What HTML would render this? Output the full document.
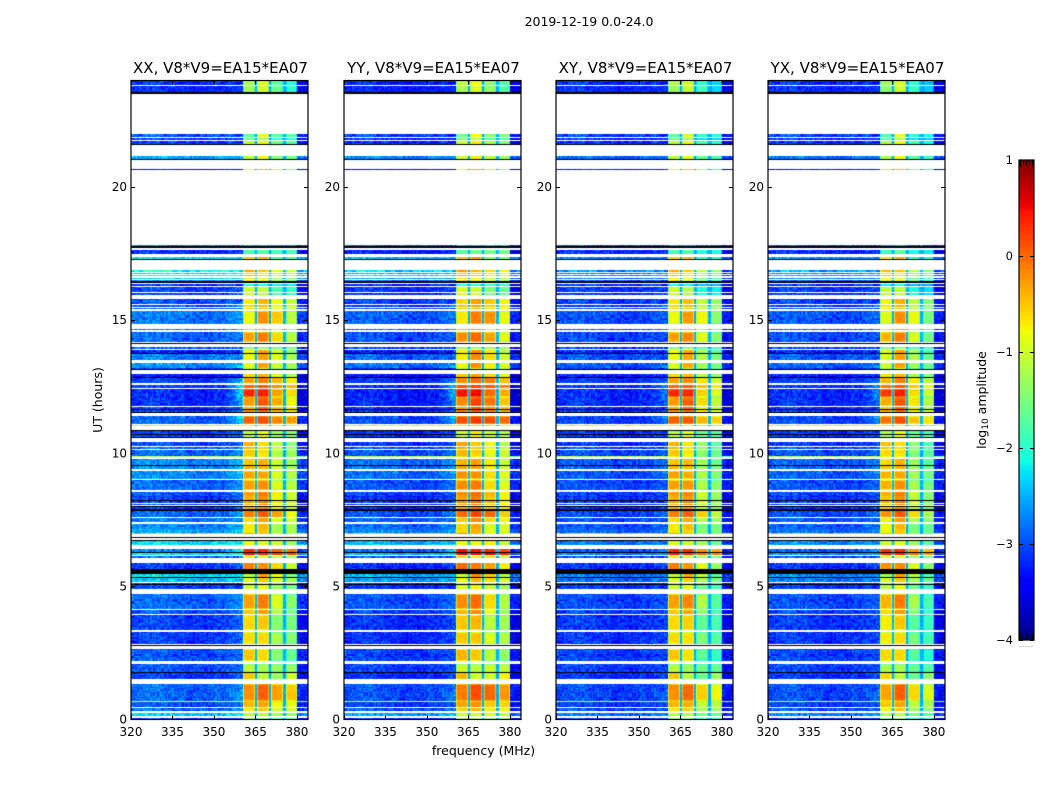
<!DOCTYPE html>
<html lang="en">
<head>
<meta charset="utf-8">
<title>2019-12-19 0.0-24.0</title>
<style>
html,body{margin:0;padding:0;background:#fff;}
#figure{position:relative;width:1050px;height:800px;overflow:hidden;background:#fff;}
canvas{position:absolute;display:block;}
svg{position:absolute;left:0;top:0;}
text{font-family:"DejaVu Sans","Liberation Sans",sans-serif;fill:#000;}
</style>
</head>
<body>
<div id="figure">
<svg id="overlay" width="1050" height="800" viewBox="0 0 1050 800"></svg>
</div>
<script>
// ---------- chart values ----------
var K = -9; // flagged rows drawn black
var panelTitles = ["XX, V8*V9=EA15*EA07","YY, V8*V9=EA15*EA07","XY, V8*V9=EA15*EA07","YX, V8*V9=EA15*EA07"];
var panelNames = ["xx","yy","xy","yx"];
var xTicks = [320,335,350,365,380];
var yTicks = [0,5,10,15,20];
var colorbarTicks = [1,0,-1,-2,-3,-4];
// background gain/shift and band offsets for each polarisation panel
var panelBgGain = [1,0.85,0.45,0.55];
var panelBgShift = [-0.12,-0.2,-0.12,-0.12];
var panelBand1 = [0.1,0.2,0.1,0];
var panelBand2 = [0.1,0.2,0.05,0.1];
var panelBand3 = [0,0.3,-0.25,-0.3];
var panelBand4 = [0,0.25,-0.3,-0.4];
// receiver bands, MHz
var bandStart = [360.6,365.6,370.5,375.8];
var bandEnd = [365.0,369.9,374.9,379.9];
var gapLevel = -2.5;
// background slope across 320..360 MHz, every 5 MHz
var bgShape = [0.05,0.12,0.08,0,-0.05,-0.05,0.02,0.05,0.1];
// channel speckle
var speckle = [0.12,-0.22,0.3,-0.08,0.18,-0.3,0.05,0.26,-0.15,-0.02,0.34,-0.27,0.09,-0.12,0.22,-0.33,0.15,0.02,-0.19,0.28,-0.06,0.11,-0.25,0.2,-0.1,0.31,-0.17,0.07,-0.29,0.16,0.24,-0.04,-0.21,0.13,-0.31,0.27,0.01,-0.14,0.19,-0.24,0.08];
// rows: top hour, bottom hour, background, shoulder(352-360MHz), band1..band4 (log10 amplitude)
var rows = [
[24,23.83,-3.1,-3,-1.3,-1,-1.7,-2],
[23.81,23.55,-3.1,-3,-1.4,-1.1,-1.6,-2],
[23.55,23.51,K],
[22,21.89,-2.9,-2.9,-1.8,-1,-1.7,-1.7],
[21.85,21.78,-3,-3,-1.7,-1.3,-2,-2],
[21.73,21.62,-3,-3,-1.2,-0.9,-1.5,-1.7],
[21.62,21.59,K],
[21.15,21.07,-2.5,-2.5,-1.2,-0.9,-1.4,-1.5],
[21.07,21.03,K],
[20.69,20.66,-3.2,-3.2,-1,-0.5,-1,-1.6],
[17.82,17.77,-2.7,-2.7,-2.6,-2.6,-2.6,-2.6],
[17.77,17.7,K],
[17.64,17.47,-3.1,-3,-1.9,-1.8,-1.8,-1.8],
[17.37,17.28,-2.2,-2.2,-0.7,-0.5,-1.7,-1.7],
[17.28,17.24,K],
[16.87,16.82,-2,-2,-0.4,-0.6,-0.9,-1],
[16.76,16.73,-2.2,-2.2,-0.7,-0.8,-1,-1.2],
[16.68,16.64,-2,-2,-0.5,-0.7,-1,-1.2],
[16.59,16.56,-2.2,-2.2,-0.8,-1,-1.4,-1.4],
[16.52,16.46,-2.6,-2.6,-0.8,-0.9,-1.2,-1.5],
[16.46,16.39,K],
[16.35,16.3,-3.1,-3.1,-2.2,-2.2,-2.2,-2.2],
[16.23,16.05,-3,-2.8,-1.1,-1.2,-1.8,-1.9],
[16.02,15.93,-3,-2.8,-1.1,-1.2,-1.8,-1.9],
[15.8,15.59,-2.9,-2.7,-0.8,-0.5,-0.8,-1],
[15.55,15.48,-2.9,-2.7,-0.7,-0.5,-0.8,-1],
[15.46,15.4,-2.9,-2.7,-0.7,-0.6,-0.9,-1.1],
[15.33,14.87,-2.7,-2.5,-0.9,-0.3,-0.5,-1.1],
[14.68,14.62,-2.7,-2.4,-0.6,-0.4,-0.9,-1.3],
[14.57,14.18,-2.8,-2.6,-0.4,-0.2,-0.6,-1.1],
[14.13,14.09,K],
[13.98,13.93,-2.8,-2.8,-1.5,-1.5,-1.5,-1.5],
[13.87,13.76,-3.2,-3,-0.9,-0.4,-1,-1.4],
[13.76,13.71,K],
[13.71,13.49,-2.7,-2.5,-0.9,-0.4,-0.9,-1.2],
[13.39,13.22,-2.6,-2.3,-1,-0.4,-1,-1.2],
[13.22,13.17,-3,-3,-1.2,-1,-1.3,-1.4],
[13.17,13.15,K],
[12.99,12.86,-3.2,-3,-0.7,-0.5,-0.9,-1.1],
[12.86,12.84,K],
[12.84,12.62,-3,-2.2,-0.4,-0.2,-0.4,-0.7],
[12.58,12.44,-3,-2,-0.1,0,-0.2,-0.4],
[12.4,12.11,-3.1,-2,0.25,0.3,-0.3,-0.6],
[12.11,11.77,-3.1,-2.3,-0.35,0,-0.35,-0.75],
[11.74,11.65,-3,-2.6,-0.5,-0.1,-0.5,-0.7],
[11.65,11.61,K],
[11.61,11.54,-3,-2.6,-0.3,-0.1,-0.4,-0.6],
[11.54,11.5,K],
[11.4,11.08,-2.8,-2.2,-0.05,0.05,-0.15,-0.25],
[11.07,11.03,-0.7,-0.7,-0.8,-0.8,-1,-1],
[10.86,10.83,K],
[10.83,10.61,-3,-2.7,-1.2,-0.9,-1.3,-1.4],
[10.74,10.71,K],
[10.61,10.57,K],
[10.42,10.27,-2.9,-2.7,-0.5,-0.7,-1.1,-1.4],
[10.24,10.15,-2.8,-2.6,-0.5,-0.7,-1.1,-1.3],
[10.11,10.02,-2.8,-2.6,-0.6,-0.7,-1.1,-1.3],
[10.02,10,K],
[10,9.91,-2.8,-2.6,-0.6,-0.8,-1.2,-1.3],
[9.89,9.86,-1.2,-1.2,-0.8,-0.9,-1.2,-1.3],
[9.8,9.55,-2.6,-2.4,-0.6,-0.5,-1,-1.3],
[9.55,9.51,K],
[9.51,9.39,-2.6,-2.4,-0.5,-0.5,-1,-1.2],
[9.35,9.05,-2.6,-2.4,-0.4,-0.4,-0.9,-1.1],
[8.98,8.61,-2.8,-2.5,-0.4,-0.3,-0.9,-1.1],
[8.54,8.41,-2.9,-2.6,-0.4,-0.2,-0.7,-1],
[8.41,8.38,K],
[8.38,8.24,-3,-2.7,-0.5,-0.3,-0.8,-1],
[8.24,8.21,K],
[8.21,8.14,-3,-2.7,-0.4,-0.2,-0.7,-1],
[8.1,8.05,-3,-2.7,-0.5,-0.3,-0.8,-1],
[8.01,7.98,K],
[7.98,7.89,-3,-2.7,-0.5,-0.3,-0.8,-1],
[7.89,7.83,K],
[7.83,7.59,-2.8,-2.5,-0.2,0,-0.3,-0.8],
[7.55,7.4,-2.7,-2.5,-0.7,-0.4,-0.9,-1],
[7.36,7.17,-2.6,-2.4,-0.8,-0.5,-1.2,-1.2],
[7.14,6.99,-2.5,-2.2,-0.8,-0.6,-1.2,-1.2],
[6.99,6.95,-0.5,-0.5,-0.4,-0.6,-1,-1.1],
[6.86,6.84,K],
[6.74,6.7,K],
[6.7,6.55,-2.2,-2,-1,-1,-1,-1.3],
[6.39,6.3,-2.7,-1.8,0.25,0.25,0.05,-0.05],
[6.3,6.26,K],
[6.26,6.17,-2.2,-1.9,0.35,0.3,0.25,0.15],
[6.14,6.07,-2.8,-2.6,-0.8,-1,-1,-1.2],
[5.86,5.64,-3,-2.8,-0.2,-0.3,-0.6,-1],
[5.64,5.46,K],
[5.46,5.36,-2.2,-2.2,-1.2,-0.4,-0.8,-1.4],
[5.36,5.3,K],
[5.3,5.17,-2.3,-2.3,-1,-0.6,-0.9,-1.2],
[5.12,5.08,-3,-3,-1.2,-1,-1.3,-1.5],
[5.08,5.05,K],
[5.05,5.01,-3,-3,-1.2,-1,-1.3,-1.5],
[5.01,4.92,-3,-3,-1.1,-0.9,-1.3,-1.5],
[4.71,4.15,-2.8,-2.5,-0.4,-0.2,-0.9,-1.4],
[4.11,3.96,-2.9,-2.6,-0.6,-0.4,-1.1,-1.5],
[3.92,3.35,-3,-2.7,-0.7,-0.6,-1.4,-1.5],
[3.28,2.84,-3,-2.7,-0.7,-0.7,-1.2,-1.4],
[2.8,2.78,K],
[2.65,2.2,-2.9,-2.7,-0.6,-0.7,-1.4,-1.6],
[2.08,1.79,-2.9,-2.7,-1.2,-1.3,-1.3,-1.3],
[1.79,1.76,K],
[1.76,1.53,-3,-2.8,-0.6,-1.2,-1.3,-1],
[1.33,0.69,-2.8,-2.5,-0.3,-0.05,-0.3,-0.5],
[0.69,0.66,-0.9,-0.9,-0.7,-0.8,-1.1,-1.1],
[0.66,0.47,-2.9,-2.7,-0.5,-0.4,-0.8,-0.8],
[0.42,0.32,-2.8,-2.4,-0.8,-0.6,-1,-1],
[0.26,0.13,-2.3,-2.1,-1.2,-1.2,-1.2,-1.3],
[0.05,0,-3,-3,-1.5,-1.5,-1.7,-1.7]
];

// ---------- layout ----------
var axLeft = [131,344,556,768];
var axWidth = 177;
var axTop = 80.5;
var axBottom = 719.5;
var fMin = 320, fMax = 384, channel = 0.5, timeStep = 0.05;
var vMin = -4, vMax = 1;
var cbLeft = 1019, cbRight = 1034, cbTop = 160, cbBottom = 640;

function xScale(panel, f){ return axLeft[panel] + (f - fMin) / (fMax - fMin) * axWidth; }
function yScale(t){ return axBottom - t / 24 * (axBottom - axTop); }
function cbScale(v){ return cbBottom - (v - vMin) / (vMax - vMin) * (cbBottom - cbTop); }

function jetPart(n, pts){
  for (var i = 1; i < pts.length; i++) {
    if (n <= pts[i][0]) {
      var a = pts[i-1], b = pts[i];
      return a[1] + (n - a[0]) / (b[0] - a[0]) * (b[1] - a[1]);
    }
  }
  return pts[pts.length-1][1];
}
var jetR = [[0,0],[0.35,0],[0.66,1],[0.89,1],[1,0.5]];
var jetG = [[0,0],[0.125,0],[0.375,1],[0.64,1],[0.91,0],[1,0]];
var jetB = [[0,0.5],[0.11,1],[0.34,1],[0.65,0],[1,0]];
function jet(v){
  var n = Math.max(0, Math.min(1, (v - vMin) / (vMax - vMin)));
  return 'rgb(' + Math.round(255*jetPart(n,jetR)) + ',' + Math.round(255*jetPart(n,jetG)) + ',' + Math.round(255*jetPart(n,jetB)) + ')';
}

function adjustBg(v, panel){
  return v < -1.5 ? -3.1 + (v + 3.1) * panelBgGain[panel] + panelBgShift[panel] : v;
}

function levelAt(row, panel, f, col, sub, edgeDrop){
  var bg = row[2];
  var bgAdj = adjustBg(bg, panel);
  var sp = speckle[(col * col * 3 + sub * sub * 7 + col * sub) % speckle.length];
  var bandOffsets = [panelBand1[panel], panelBand2[panel], panelBand3[panel], panelBand4[panel]];
  if (f >= 380) return bgAdj - 0.3 + sp;
  if (f < 360.6) {
    var i = Math.min(bgShape.length - 1, Math.floor((f - 320) / 5));
    var base = bgAdj + bgShape[i] * (bg < -1.5 ? 1 : 0);
    if (f > 352) {
      var shoulder = adjustBg(row[3], panel);
      var u = (f - 352) / 8.6;
      base = base + (shoulder - base) * u * u;
    }
    return base + sp;
  }
  for (var b = 0; b < bandStart.length; b++) {
    if (f >= bandStart[b] && f < bandEnd[b]) {
      var d = Math.min(f - bandStart[b], bandEnd[b] - f);
      var taper = d < 0.5 ? 0.4 : 0;
      return row[4 + b] + bandOffsets[b] - taper - edgeDrop + sp * 0.2;
    }
  }
  return gapLevel + sp * 0.3;
}

function drawPanel(ctx, panel){
  var ox = axLeft[panel], oy = Math.round(axTop);
  rows.forEach(function(row){
    var top = row[0], bot = row[1];
    var yTop = Math.round(yScale(top));
    var yBot = Math.max(yTop + 1, Math.round(yScale(bot)));
    if (row[2] === K) {
      ctx.fillStyle = '#000';
      ctx.fillRect(0, yTop - oy, axWidth, yBot - yTop);
      return;
    }
    var n = Math.max(1, Math.round((top - bot) / timeStep));
    for (var s = 0; s < n; s++) {
      var y0 = yTop + Math.round((yBot - yTop) * s / n);
      var y1 = yTop + Math.round((yBot - yTop) * (s + 1) / n);
      if (y1 <= y0) continue;
      var edgeDrop = (n >= 6 && (s === 0 || s === n - 1)) ? 0.3 : 0;
      var sub = Math.round(top / timeStep) + s;
      var col = 0;
      for (var f = fMin; f < fMax; f += channel, col++) {
        var x0 = Math.round(xScale(panel, f));
        var x1 = Math.round(xScale(panel, f + channel));
        if (x1 <= x0) continue;
        ctx.fillStyle = jet(levelAt(row, panel, f + channel / 2, col, sub, edgeDrop));
        ctx.fillRect(x0 - ox, y0 - oy, x1 - x0, y1 - y0);
      }
    }
  });
}

// ---------- svg helpers ----------
var svgNS = 'http://www.w3.org/2000/svg';
var overlay = document.getElementById('overlay');
var figure = document.getElementById('figure');

function addLine(x1, y1, x2, y2, color){
  var l = document.createElementNS(svgNS, 'line');
  l.setAttribute('x1', x1); l.setAttribute('y1', y1);
  l.setAttribute('x2', x2); l.setAttribute('y2', y2);
  l.setAttribute('stroke', color || '#000');
  l.setAttribute('stroke-width', '1');
  overlay.appendChild(l);
  return l;
}
function addText(x, y, str, size, anchor){
  var t = document.createElementNS(svgNS, 'text');
  t.setAttribute('x', x); t.setAttribute('y', y);
  t.setAttribute('font-size', size);
  t.setAttribute('text-anchor', anchor || 'middle');
  t.textContent = str;
  overlay.appendChild(t);
  return t;
}

// ---------- panels ----------
panelTitles.forEach(function(title, p){
  var cv = document.createElement('canvas');
  
  
  cv.width = axWidth;
  cv.height = Math.round(axBottom) - Math.round(axTop);
  cv.style.left = axLeft[p] + 'px';
  cv.style.top = Math.round(axTop) + 'px';
  figure.insertBefore(cv, overlay);
  drawPanel(cv.getContext('2d'), p);

  var frame = document.createElementNS(svgNS, 'rect');
  
  
  frame.setAttribute('x', axLeft[p]);
  frame.setAttribute('y', axTop);
  frame.setAttribute('width', axWidth);
  frame.setAttribute('height', axBottom - axTop);
  frame.setAttribute('fill', 'none');
  frame.setAttribute('stroke', '#000');
  frame.setAttribute('stroke-width', '1.2');
  overlay.appendChild(frame);

  var titleEl = addText(axLeft[p] + axWidth / 2 + 1, 73, title, 15, 'middle');
  
  

  xTicks.forEach(function(v){
    var x = Math.round(xScale(p, v)) + 0.5;
    var tb = addLine(x, axBottom, x, axBottom - 4);
    
    
    var tt = addLine(x, axTop, x, axTop + 4);
    
    
    var lb = addText(xScale(p, v), 736, String(v), 12, 'middle');
    
    
  });
  yTicks.forEach(function(v){
    var y = Math.floor(yScale(v)) + 0.5;
    var tl = addLine(axLeft[p], y, axLeft[p] + 4, y);
    
    
    var tr = addLine(axLeft[p] + axWidth, y, axLeft[p] + axWidth - 4, y);
    
    
    var lb = addText(axLeft[p] - 4, yScale(v) + 4, String(v), 12, 'end');
    
    
  });
});

var suptitle = addText(589, 26, '2019-12-19 0.0-24.0', 12.5, 'middle');



var xTitle = addText(483.5, 755, 'frequency (MHz)', 12.5, 'middle');



var yTitle = addText(0, 0, 'UT (hours)', 12.5, 'middle');
yTitle.setAttribute('transform', 'translate(102,400) rotate(-90)');



// ---------- colorbar ----------
var cb = document.createElement('canvas');


cb.width = cbRight - cbLeft;
cb.height = cbBottom - cbTop;
cb.style.left = cbLeft + 'px';
cb.style.top = cbTop + 'px';
figure.insertBefore(cb, overlay);
var cbCtx = cb.getContext('2d');
for (var py = 0; py < cb.height; py++) {
  var val = vMax - (py + 0.5) / cb.height * (vMax - vMin);
  cbCtx.fillStyle = jet(val);
  cbCtx.fillRect(0, py, cb.width, 1);
}
var cbFrame = document.createElementNS(svgNS, 'rect');


cbFrame.setAttribute('x', cbLeft);
cbFrame.setAttribute('y', cbTop);
cbFrame.setAttribute('width', cbRight - cbLeft);
cbFrame.setAttribute('height', cbBottom - cbTop);
cbFrame.setAttribute('fill', 'none');
cbFrame.setAttribute('stroke', '#000');
cbFrame.setAttribute('stroke-width', '1.2');
overlay.appendChild(cbFrame);

colorbarTicks.forEach(function(v){
  var y = Math.round(cbScale(v)) + (v === vMax ? 0 : 0.5);
  var a = addLine(cbLeft, y, cbLeft + 4, y);
  
  
  var b = addLine(cbRight, y, cbRight - 4, y);
  
  
  var label = (v < 0 ? '\u2212' + Math.abs(v) : String(v));
  var lb = addText(1013, cbScale(v) + 4, label, 11.5, 'end');
  
  
});
[1.5,4.5,7.5,10.5,13.5].forEach(function(dx){
  var t1 = addLine(cbLeft + dx, cbTop, cbLeft + dx, cbTop + 6, '#000');
  
  
  var t2 = addLine(cbLeft + dx, cbBottom, cbLeft + dx, cbBottom - 6, '#000');
  
  
  var d = addLine(cbLeft + dx - 1, 646.5, cbLeft + dx, 646.5, '#999');
  
  
});

var cbLabel = document.createElementNS(svgNS, 'text');


cbLabel.setAttribute('font-size', '12.5');
cbLabel.setAttribute('text-anchor', 'middle');
cbLabel.setAttribute('transform', 'translate(986,400) rotate(-90)');
var cbLog = document.createElementNS(svgNS, 'tspan');
cbLog.textContent = 'log';
cbLabel.appendChild(cbLog);
var cbSub = document.createElementNS(svgNS, 'tspan');
cbSub.setAttribute('font-size', '9');
cbSub.setAttribute('dy', '2');
cbSub.textContent = '10';
cbLabel.appendChild(cbSub);
var cbRest = document.createElementNS(svgNS, 'tspan');
cbRest.setAttribute('dy', '-2');
cbRest.textContent = ' amplitude';
cbLabel.appendChild(cbRest);
overlay.appendChild(cbLabel);
</script>
</body>
</html>
